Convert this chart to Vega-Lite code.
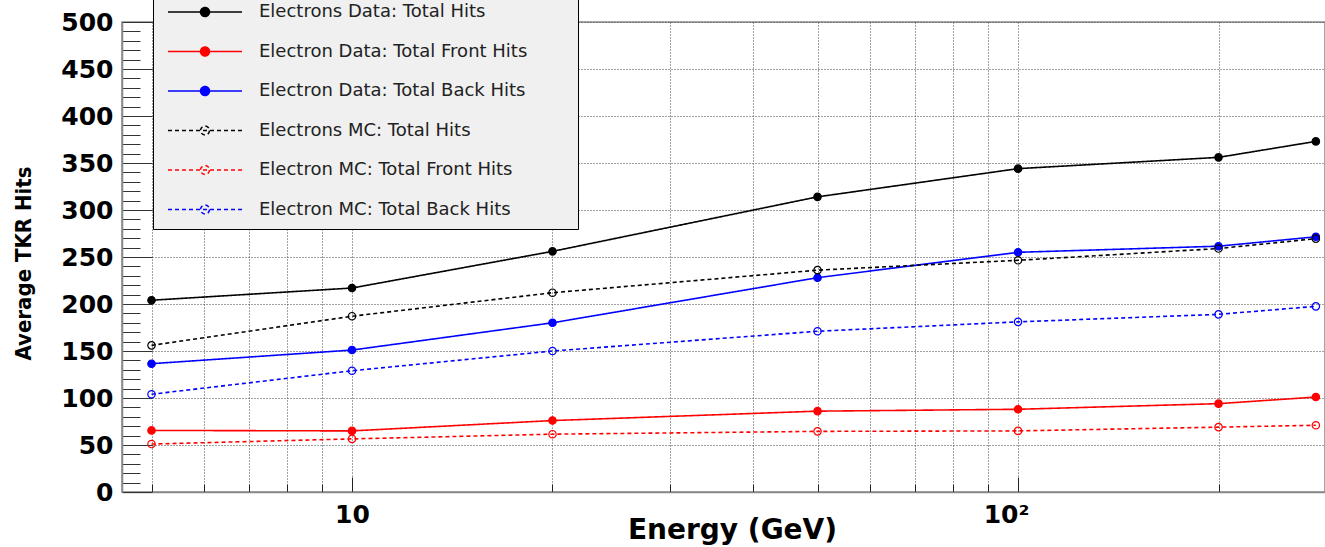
{
  "$schema": "https://vega.github.io/schema/vega-lite/v6.json",
  "width": 1203,
  "height": 470,
  "autosize": "none",
  "padding": {"left": 122, "top": 22, "right": 0, "bottom": 55},
  "background": "white",
  "config": {
    "view": {"stroke": "#888", "strokeWidth": 1.5}
  },
  "data": {
    "values": [
      {"series": "Electrons Data: Total Hits", "energy": 5, "hits": 204},
      {"series": "Electrons Data: Total Hits", "energy": 10, "hits": 217},
      {"series": "Electrons Data: Total Hits", "energy": 20, "hits": 256},
      {"series": "Electrons Data: Total Hits", "energy": 50, "hits": 314},
      {"series": "Electrons Data: Total Hits", "energy": 100, "hits": 344},
      {"series": "Electrons Data: Total Hits", "energy": 200, "hits": 356},
      {"series": "Electrons Data: Total Hits", "energy": 280, "hits": 373},
      {"series": "Electron Data: Total Front Hits", "energy": 5, "hits": 65.5},
      {"series": "Electron Data: Total Front Hits", "energy": 10, "hits": 65},
      {"series": "Electron Data: Total Front Hits", "energy": 20, "hits": 76},
      {"series": "Electron Data: Total Front Hits", "energy": 50, "hits": 86},
      {"series": "Electron Data: Total Front Hits", "energy": 100, "hits": 88},
      {"series": "Electron Data: Total Front Hits", "energy": 200, "hits": 94},
      {"series": "Electron Data: Total Front Hits", "energy": 280, "hits": 101},
      {"series": "Electron Data: Total Back Hits", "energy": 5, "hits": 136.5},
      {"series": "Electron Data: Total Back Hits", "energy": 10, "hits": 151},
      {"series": "Electron Data: Total Back Hits", "energy": 20, "hits": 180},
      {"series": "Electron Data: Total Back Hits", "energy": 50, "hits": 228},
      {"series": "Electron Data: Total Back Hits", "energy": 100, "hits": 255},
      {"series": "Electron Data: Total Back Hits", "energy": 200, "hits": 261.5},
      {"series": "Electron Data: Total Back Hits", "energy": 280, "hits": 271.5},
      {"series": "Electrons MC: Total Hits", "energy": 5, "hits": 156},
      {"series": "Electrons MC: Total Hits", "energy": 10, "hits": 187},
      {"series": "Electrons MC: Total Hits", "energy": 20, "hits": 212},
      {"series": "Electrons MC: Total Hits", "energy": 50, "hits": 236},
      {"series": "Electrons MC: Total Hits", "energy": 100, "hits": 246.5},
      {"series": "Electrons MC: Total Hits", "energy": 200, "hits": 259},
      {"series": "Electrons MC: Total Hits", "energy": 280, "hits": 269.5},
      {"series": "Electron MC: Total Front Hits", "energy": 5, "hits": 51},
      {"series": "Electron MC: Total Front Hits", "energy": 10, "hits": 56.5},
      {"series": "Electron MC: Total Front Hits", "energy": 20, "hits": 61.5},
      {"series": "Electron MC: Total Front Hits", "energy": 50, "hits": 64.5},
      {"series": "Electron MC: Total Front Hits", "energy": 100, "hits": 65},
      {"series": "Electron MC: Total Front Hits", "energy": 200, "hits": 69},
      {"series": "Electron MC: Total Front Hits", "energy": 280, "hits": 71},
      {"series": "Electron MC: Total Back Hits", "energy": 5, "hits": 104},
      {"series": "Electron MC: Total Back Hits", "energy": 10, "hits": 129},
      {"series": "Electron MC: Total Back Hits", "energy": 20, "hits": 150},
      {"series": "Electron MC: Total Back Hits", "energy": 50, "hits": 171},
      {"series": "Electron MC: Total Back Hits", "energy": 100, "hits": 181},
      {"series": "Electron MC: Total Back Hits", "energy": 200, "hits": 189},
      {"series": "Electron MC: Total Back Hits", "energy": 280, "hits": 197.5}
    ]
  },
  "encoding": {
    "x": {
      "field": "energy",
      "type": "quantitative",
      "scale": {"type": "log", "domain": [4.515, 289], "nice": false},
      "axis": {
        "values": [5, 6, 7, 8, 9, 10, 20, 30, 40, 50, 60, 70, 80, 90, 100, 200],
        "labelExpr": "datum.value === 10 ? '10' : (datum.value === 100 ? '10²' : '')",
        "labelOverlap": false,
        "labelFont": "DejaVu Sans",
        "labelFontWeight": "bold",
        "labelFontSize": 25,
        "labelColor": "#000",
        "labelBaseline": "top",
        "labelPadding": 25,
        "labelOffset": {"condition": {"test": "datum.value === 100", "value": -12}, "value": 0},
        "tickSize": {"condition": {"test": "datum.value === 10 || datum.value === 100", "value": -15}, "value": -8},
        "tickColor": "#222",
        "tickWidth": 1,
        "domainColor": "#888",
        "domainWidth": 1.5,
        "grid": true,
        "gridColor": "#444",
        "gridDash": [1, 2],
        "gridWidth": 1,
        "title": "Energy (GeV)",
        "titleFont": "DejaVu Sans",
        "titleFontWeight": "bold",
        "titleFontSize": 28,
        "titleColor": "#000",
        "titleX": 610,
        "titleY": 46,
        "titleBaseline": "alphabetic"
      }
    },
    "y": {
      "field": "hits",
      "type": "quantitative",
      "scale": {"domain": [0, 500], "nice": false},
      "axis": {
        "values": [0, 10, 20, 30, 40, 50, 60, 70, 80, 90, 100, 110, 120, 130, 140, 150, 160, 170, 180, 190, 200, 210, 220, 230, 240, 250, 260, 270, 280, 290, 300, 310, 320, 330, 340, 350, 360, 370, 380, 390, 400, 410, 420, 430, 440, 450, 460, 470, 480, 490, 500],
        "labelExpr": "datum.value % 50 === 0 ? datum.label : ''",
        "labelOverlap": false,
        "labelFont": "DejaVu Sans",
        "labelFontWeight": "bold",
        "labelFontSize": 25,
        "labelColor": "#000",
        "labelPadding": 39,
        "tickSize": {"condition": {"test": "datum.value % 50 === 0", "value": -30}, "value": -18},
        "tickColor": "#333",
        "tickWidth": 1,
        "domainColor": "#888",
        "domainWidth": 1.5,
        "grid": true,
        "gridColor": {"condition": {"test": "datum.value % 50 === 0", "value": "#444"}, "value": "transparent"},
        "gridDash": [1, 2],
        "gridWidth": 1,
        "title": "Average TKR Hits",
        "titleFont": "DejaVu Sans Condensed, DejaVu Sans",
        "titleFontWeight": "bold",
        "titleFontSize": 22,
        "titleColor": "#000",
        "titleAngle": -90,
        "titleX": -92,
        "titleY": 241,
        "titleAlign": "center",
        "titleBaseline": "alphabetic"
      }
    },
    "color": {
      "field": "series",
      "type": "nominal",
      "scale": {
        "domain": ["Electrons Data: Total Hits", "Electron Data: Total Front Hits", "Electron Data: Total Back Hits", "Electrons MC: Total Hits", "Electron MC: Total Front Hits", "Electron MC: Total Back Hits"],
        "range": ["#000000", "#ff0000", "#0000ff", "#000000", "#ff0000", "#0000ff"]
      },
      "legend": {
        "title": null,
        "orient": "none",
        "legendX": 31,
        "legendY": -31,
        "fillColor": "#f0f0f0",
        "strokeColor": "#000",
        "padding": 10,
        "symbolType": "M-3.7,0H3.7M0.45,0A0.45,0.45,0,1,1,-0.45,0A0.45,0.45,0,1,1,0.45,0Z",
        "symbolSize": 400,
        "symbolStrokeWidth": 1.5,
        "symbolOffset": 31,
        "labelFont": "DejaVu Sans",
        "labelFontSize": 18,
        "labelColor": "#222",
        "labelOffset": 43,
        "labelLimit": 500,
        "rowPadding": 19.5,
        "labelExpr": "datum.label + '\u00a0\u00a0\u00a0\u00a0\u00a0\u00a0\u00a0\u200b'"
      }
    }
  },
  "layer": [
    {
      "mark": {"type": "line", "strokeWidth": 1.6},
      "encoding": {
        "strokeDash": {
          "field": "series",
          "type": "nominal",
          "scale": {
            "domain": ["Electrons Data: Total Hits", "Electron Data: Total Front Hits", "Electron Data: Total Back Hits", "Electrons MC: Total Hits", "Electron MC: Total Front Hits", "Electron MC: Total Back Hits"],
            "range": [[1, 0], [1, 0], [1, 0], [4, 3], [4, 3], [4, 3]]
          },
          "legend": {
            "title": null,
            "orient": "none",
            "legendX": 31,
            "legendY": -31,
            "fillColor": "#f0f0f0",
            "strokeColor": "#000",
            "padding": 10,
            "symbolType": "M-3.7,0H3.7M0.45,0A0.45,0.45,0,1,1,-0.45,0A0.45,0.45,0,1,1,0.45,0Z",
            "symbolSize": 400,
            "symbolStrokeWidth": 1.5,
            "symbolOffset": 31,
            "labelFont": "DejaVu Sans",
            "labelFontSize": 18,
            "labelColor": "#222",
            "labelOffset": 43,
            "labelLimit": 500,
            "rowPadding": 19.5,
            "labelExpr": "datum.label + '\u00a0\u00a0\u00a0\u00a0\u00a0\u00a0\u00a0\u200b'"
          }
        }
      }
    },
    {
      "mark": {"type": "point", "size": 55, "strokeWidth": 1.2, "opacity": 1},
      "encoding": {
        "fill": {
          "field": "series",
          "type": "nominal",
          "scale": {
            "domain": ["Electrons Data: Total Hits", "Electron Data: Total Front Hits", "Electron Data: Total Back Hits", "Electrons MC: Total Hits", "Electron MC: Total Front Hits", "Electron MC: Total Back Hits"],
            "range": ["#000000", "#ff0000", "#0000ff", "transparent", "transparent", "transparent"]
          },
          "legend": {
            "title": null,
            "orient": "none",
            "legendX": 31,
            "legendY": -31,
            "fillColor": "#f0f0f0",
            "strokeColor": "#000",
            "padding": 10,
            "symbolType": "M-3.7,0H3.7M0.45,0A0.45,0.45,0,1,1,-0.45,0A0.45,0.45,0,1,1,0.45,0Z",
            "symbolSize": 400,
            "symbolStrokeWidth": 1.5,
            "symbolOffset": 31,
            "labelFont": "DejaVu Sans",
            "labelFontSize": 18,
            "labelColor": "#222",
            "labelOffset": 43,
            "labelLimit": 500,
            "rowPadding": 19.5,
            "labelExpr": "datum.label + '\u00a0\u00a0\u00a0\u00a0\u00a0\u00a0\u00a0\u200b'"
          }
        }
      }
    }
  ]
}
